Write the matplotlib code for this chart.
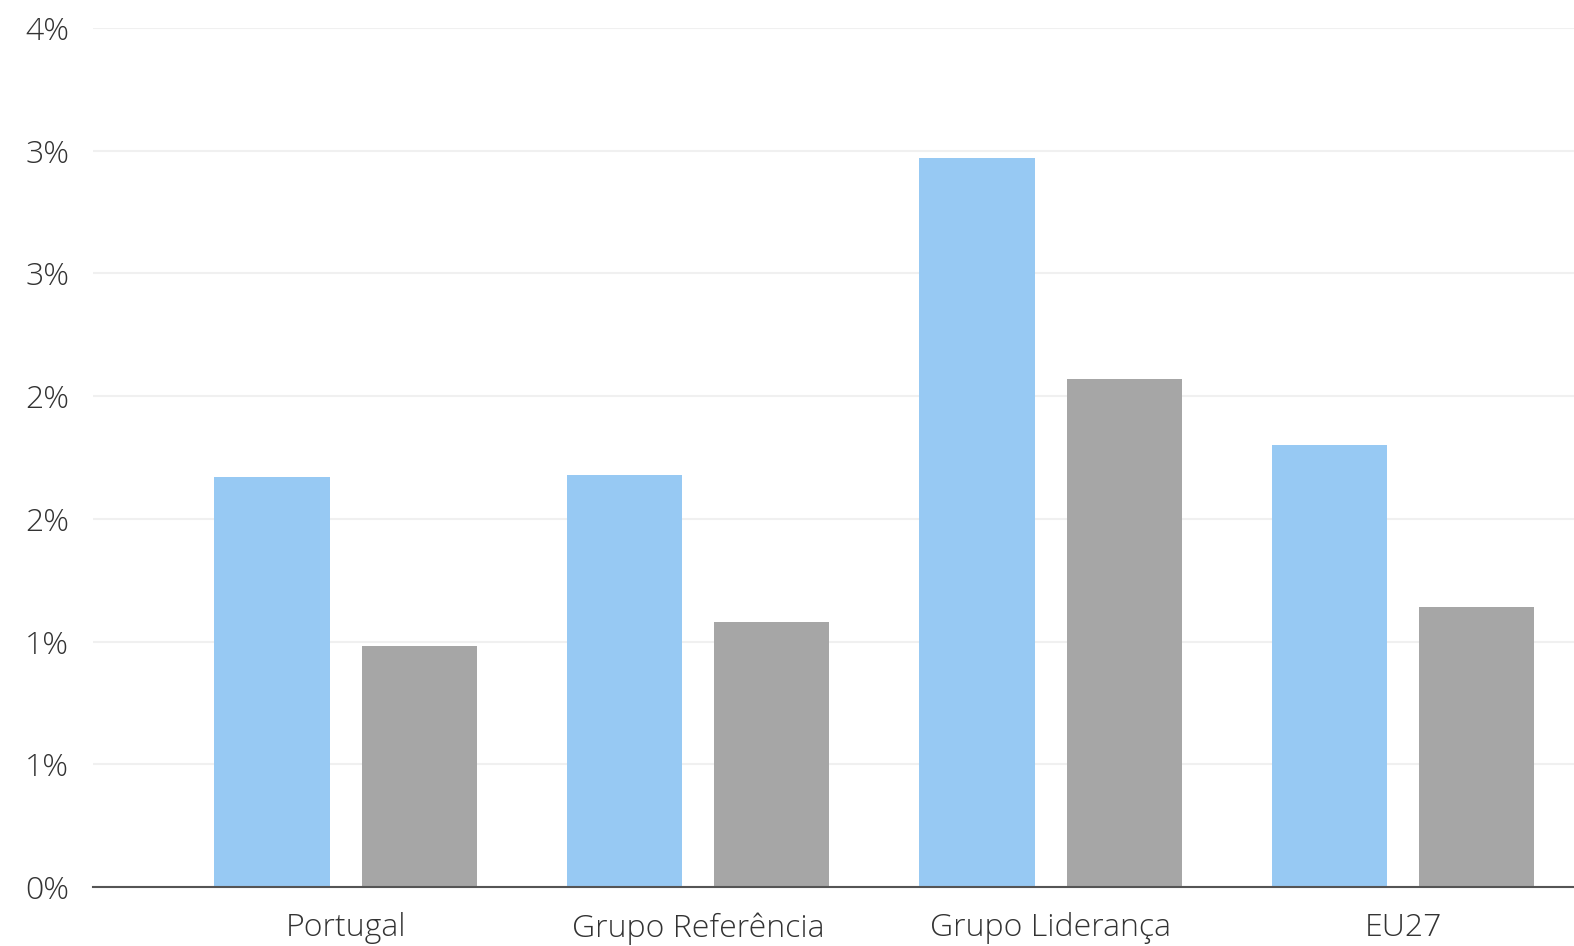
import math
import matplotlib.pyplot as plt
import numpy as np
from matplotlib.ticker import FuncFormatter

# Values (in %)
categories = ['Portugal', 'Grupo Referência', 'Grupo Liderança', 'EU27']
serie_a = [1.67, 1.68, 2.97, 1.80]
serie_b = [0.98, 1.08, 2.07, 1.14]
yticks = [0, 0.5, 1, 1.5, 2, 2.5, 3, 3.5]

plt.rcParams['font.family'] = ['Open Sans', 'DejaVu Sans']

fig = plt.figure(figsize=(15.74, 9.46), dpi=100)
ax = fig.add_axes([93 / 1574, 59 / 946, 1481 / 1574, 859 / 946])

x = np.arange(len(categories))
w = 0.327
off = 0.209
ax.bar(x - off, serie_a, width=w, color='#97c9f3', zorder=3)
ax.bar(x + off, serie_b, width=w, color='#a6a6a6', zorder=3)

ax.set_xlim(-0.717, 3.485)
ax.set_ylim(0, 3.5)
ax.set_yticks(yticks)
# labels rounded half up, as in the original (0.5 -> 1%)
ax.yaxis.set_major_formatter(FuncFormatter(lambda v, p: '{:d}%'.format(int(math.floor(v + 0.5)))))
ax.set_xticks(x)
ax.set_xticklabels(categories)

ax.grid(axis='y', color='#f0f0f0', linewidth=1.5, zorder=0)
for s in ['top', 'right', 'left']:
    ax.spines[s].set_visible(False)
ax.spines['bottom'].set_color('#555555')
ax.spines['bottom'].set_linewidth(1.5)
ax.spines['bottom'].set_zorder(4)
ax.tick_params(axis='y', length=0, pad=17, labelsize=23, labelcolor='#333333')
ax.tick_params(axis='x', length=0, pad=18, labelsize=23, labelcolor='#333333')
for lab in ax.get_xticklabels() + ax.get_yticklabels():
    lab.set_fontweight('light')

fig.savefig('out.png', dpi=100)
